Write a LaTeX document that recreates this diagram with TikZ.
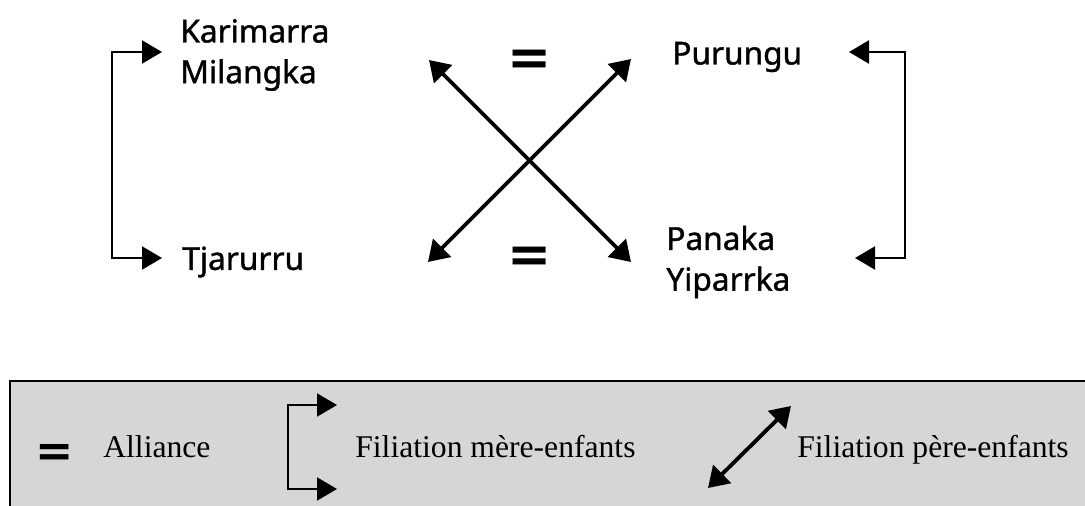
\documentclass[tikz,border=0pt]{standalone}
\usepackage{fontspec}
\setmainfont{Liberation Serif}
\newfontfamily\sectionfont[FakeBold=1.2]{Noto Sans}
\newfontfamily\eqfont{DejaVu Sans}
\RequirePackage{xcolor}
\usetikzlibrary{calc}
\usetikzlibrary{positioning}
\usetikzlibrary{arrows.meta}
\definecolor{legendgray}{RGB}{214,214,214}
\tikzset{
  section/.style={font=\sectionfont\fontsize{18}{23.2}\selectfont, align=left, inner sep=0pt, anchor=west},
  eqsign/.style={font=\eqfont\bfseries\fontsize{30}{30}\selectfont, inner sep=0pt},
  legendtext/.style={font=\fontsize{18}{20}\selectfont, inner sep=0pt, anchor=base west},
  matfil/.style={line width=1.2pt, {Triangle[length=0.4cm,width=0.46cm]}-{Triangle[length=0.4cm,width=0.46cm]}},
  patfil/.style={line width=2.2pt, {Triangle[length=0.4cm,width=0.5cm]}-{Triangle[length=0.4cm,width=0.5cm]}}
}

\begin{document}
\begin{tikzpicture}[x=0.02cm, y=-0.02cm]
  \useasboundingbox (0,0) rectangle (1085,506);

  % sections
  \node [section] (karimarra) at (180,55) {Karimarra\\Milangka};
  \node [section] (tjarurru) at (182,262) {Tjarurru};
  \node [section] (purungu) at (672,57) {Purungu};
  \node [section] (panaka) at (666,262) {Panaka\\Yiparrka};

  \node [eqsign] (eqtop) at (530,63) {=};
  \node [eqsign] (eqbottom) at (530,260) {=};

  % free arrow ends
  \coordinate (karimarra in) at (162,52);
  \coordinate (tjarurru in) at (162,258);
  \coordinate (purungu in) at (849,52);
  \coordinate (panaka in) at (855,258);
  \coordinate (cross nw) at (429,60);
  \coordinate (cross ne) at (631,59);
  \coordinate (cross sw) at (428,262);
  \coordinate (cross se) at (631,262);

  \draw [matfil] (karimarra in) -- ++(-50,0) |- (tjarurru in);
  \draw [matfil] (purungu in) -- (905,52) |- (panaka in);
  \draw [patfil] (cross nw) -- (cross se);
  \draw [patfil] (cross sw) -- (cross ne);

  % legend
  \draw [line width=1.2pt, fill=legendgray] (10,381) rectangle (1100,520);
  \node [eqsign, font=\eqfont\bfseries\fontsize{26}{26}\selectfont] (eqlegend) at (55,455) {=};
  \node [legendtext] (alliance) at (103,457) {Alliance};
  \coordinate (mother top) at (337,405);
  \coordinate (mother bottom) at (337,489);
  \draw [matfil] (mother top) -- (288,405) |- (mother bottom);
  \node [legendtext] (motherlabel) at (355,457) {Filiation mère-enfants};
  \coordinate (father sw) at (708,488);
  \coordinate (father ne) at (791,406);
  \draw [patfil] (father sw) -- (father ne);
  \node [legendtext] (fatherlabel) at (797,457) {Filiation père-enfants};

\end{tikzpicture}
\end{document}
